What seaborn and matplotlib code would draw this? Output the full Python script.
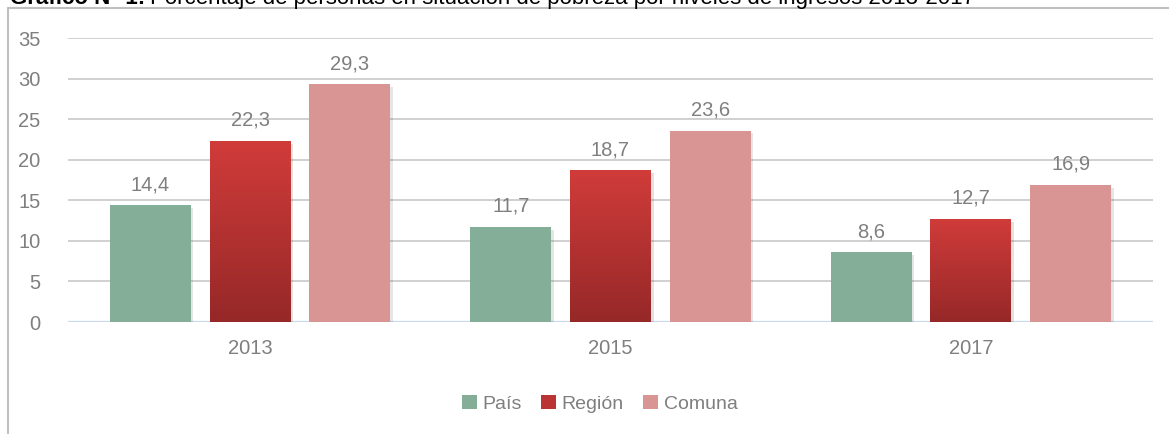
import numpy as np
import pandas as pd
import matplotlib
matplotlib.use("Agg")
import matplotlib.pyplot as plt
import matplotlib.patheffects as pe
from matplotlib.lines import Line2D
from matplotlib.patches import Patch
from matplotlib.colors import LinearSegmentedColormap
import seaborn as sns

# Porcentaje de personas en situación de pobreza por ingresos
years = ["2013", "2015", "2017"]
series = ["País", "Región", "Comuna"]
pais = [14.4, 11.7, 8.6]
region = [22.3, 18.7, 12.7]
comuna = [29.3, 23.6, 16.9]
yticks = [0, 5, 10, 15, 20, 25, 30, 35]

colors = {"País": "#84ae98", "Región": "#bb3434", "Comuna": "#d99494"}
text_gray = "#7f7f7f"

df = pd.DataFrame({
    "Año": years * 3,
    "Serie": [s for s in series for _ in years],
    "Valor": pais + region + comuna,
})

sns.set_theme(style="white")
plt.rcParams["font.family"] = ["Liberation Sans", "DejaVu Sans"]

fig = plt.figure(figsize=(11.69, 4.34), dpi=100)
ax = fig.add_axes([0.0582, 0.258, 0.928, 0.6544])

sns.barplot(data=df, x="Año", y="Valor", hue="Serie", order=years,
            hue_order=series, palette=colors, width=0.83, gap=0.19,
            legend=False, ax=ax, linewidth=0, saturation=1)

ax.yaxis.grid(True, color="#d0d0d0", linewidth=1.4)
ax.set_axisbelow(True)
for s in ax.spines.values():
    s.set_visible(False)
ax.axhline(0, color="#c9d9ee", linewidth=1.6, zorder=1)
ax.set_xlabel("")
ax.set_ylabel("")
ax.set_yticks(yticks)
ax.tick_params(axis="y", length=0, pad=20, labelsize=14.5, labelcolor=text_gray)
ax.tick_params(axis="x", length=0, pad=12, labelsize=14.5, labelcolor=text_gray)

# vertical gradient for the regional bars
grad = LinearSegmentedColormap.from_list("reg", ["#962828", "#d03c3a"])
shadow = [pe.SimplePatchShadow(offset=(2, -2), alpha=0.12), pe.Normal()]
bars = list(ax.patches)
n = len(years)
for i, p in enumerate(bars):
    p.set_path_effects(shadow)
    p.set_zorder(2)
    h = p.get_height()
    x0 = p.get_x()
    w = p.get_width()
    if series[i // n] == "Región":
        img = ax.imshow(np.linspace(0, 1, 256).reshape(-1, 1), cmap=grad,
                        aspect="auto", origin="lower",
                        extent=(x0, x0 + w, 0, h), zorder=3)
        img.set_clip_path(p)
    ax.annotate(f"{h:.1f}".replace(".", ","), (x0 + w / 2, h),
                xytext=(0, 8), textcoords="offset points",
                ha="center", va="bottom", fontsize=14.5, color=text_gray)
ax.set_xlim(-0.505, 2.505)
ax.set_ylim(0, 35)

handles = [Patch(facecolor=colors[s], edgecolor="none") for s in series]
fig.legend(handles, series, loc="center", bbox_to_anchor=(0.513, 0.069),
           ncol=3, frameon=False, fontsize=14, labelcolor=text_gray,
           handlelength=0.75, handleheight=0.75, handletextpad=0.3,
           columnspacing=1.0)

# chart frame
fig.add_artist(Line2D([8 / 1169, 8 / 1169], [0, 1 - 8 / 434],
                      transform=fig.transFigure, color="#bfbfbf", lw=1.5))
fig.add_artist(Line2D([8 / 1169, 1], [1 - 8 / 434, 1 - 8 / 434],
                      transform=fig.transFigure, color="#bfbfbf", lw=1.5))

# caption above the frame: bold lead followed by the plain title
base_y = 1 - 4 / 434
lead = fig.text(10 / 1169, base_y, "Gráfico N° 1:", fontsize=16,
                fontweight="bold", va="baseline", ha="left", color="black")
fig.canvas.draw()
bb = lead.get_window_extent(renderer=fig.canvas.get_renderer())
fig.text((bb.x1 + 5) / 1169, base_y,
         "Porcentaje de personas en situación de pobreza por niveles de ingresos 2013-2017",
         fontsize=16, va="baseline", ha="left", color="black")

fig.savefig("out.png", dpi=100, facecolor="white")
